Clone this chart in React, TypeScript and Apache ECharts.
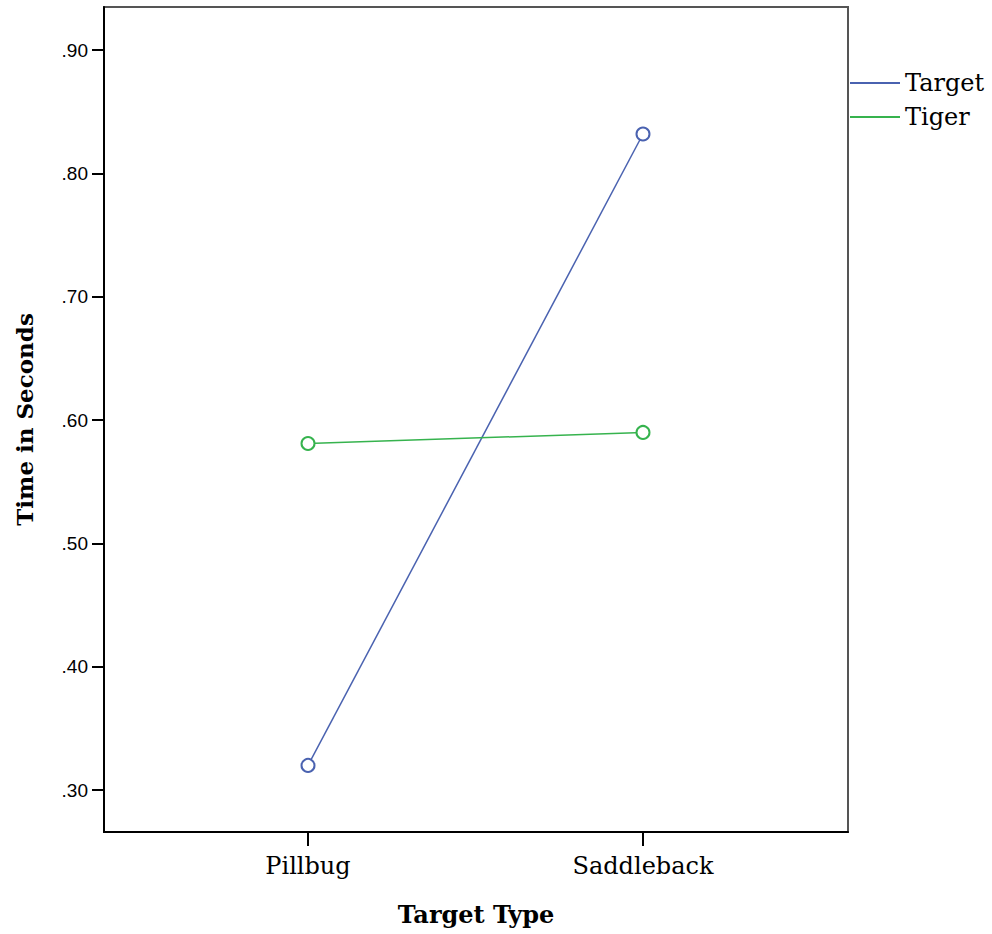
import React, { useEffect, useRef } from "react";
import * as echarts from "echarts";

const categories = ["Pillbug", "Saddleback"];
const seriesNames = ["Target", "Tiger"];
const targetValues = [0.32, 0.832];
const tigerValues = [0.581, 0.59];
const yTicks = [0.3, 0.4, 0.5, 0.6, 0.7, 0.8, 0.9];
const seriesColors = ["#4a62b0", "#36b34e"];

export default function App() {
  const ref = useRef<HTMLDivElement>(null);
  useEffect(() => {
    if (!ref.current) return;
    const chart = echarts.init(ref.current, undefined, { renderer: "svg" });
    const serif = "DejaVu Serif";
    const mk = (vals: number[]) => vals.map((v, i) => [i, v]);
    chart.setOption({
      animation: false,
      backgroundColor: "#ffffff",
      grid: {
        left: 104,
        top: 7,
        width: 744,
        height: 825,
        show: true,
        borderColor: "#555555",
        borderWidth: 2,
        backgroundColor: "transparent",
      },
      legend: {
        orient: "vertical",
        left: 850,
        top: 66,
        padding: 0,
        itemWidth: 50,
        itemHeight: 2,
        itemGap: 0,
        icon: "rect",
        data: seriesNames,
        textStyle: { fontFamily: serif, fontSize: 24, color: "#000", lineHeight: 34, padding: [0, 0, 0, 0] },
      },
      xAxis: {
        type: "value",
        min: -0.609,
        max: 1.612,
        splitLine: { show: false },
        axisLine: { show: true, onZero: false, lineStyle: { color: "#000", width: 2 } },
        axisTick: { show: true, length: 14, lineStyle: { color: "#000", width: 2 }, customValues: [0, 1] },
        axisLabel: {
          customValues: [0, 1],
          formatter: (v: number) => categories[Math.round(v)] ?? "",
          fontFamily: serif,
          fontSize: 24,
          color: "#000",
          margin: 22,
        },
        name: "Target Type",
        nameLocation: "middle",
        nameGap: 70,
        nameTextStyle: { fontFamily: serif, fontSize: 24, fontWeight: "bold", color: "#000" },
      },
      yAxis: {
        type: "value",
        min: 0.266,
        max: 0.935,
        splitLine: { show: false },
        axisLine: { show: true, onZero: false, lineStyle: { color: "#000", width: 2 } },
        axisTick: { show: true, length: 12, lineStyle: { color: "#000", width: 2 }, customValues: yTicks },
        axisLabel: {
          customValues: yTicks,
          formatter: (v: number) => v.toFixed(2).replace(/^0/, ""),
          fontFamily: "Liberation Sans",
          fontSize: 19,
          color: "#000",
          margin: 16,
        },
        name: "Time in Seconds",
        nameLocation: "middle",
        nameGap: 68,
        nameTextStyle: { fontFamily: serif, fontSize: 23, fontWeight: "bold", color: "#000" },
      },
      series: [
        {
          name: seriesNames[0],
          type: "line",
          data: mk(targetValues),
          color: seriesColors[0],
          lineStyle: { width: 1.5, color: seriesColors[0] },
          symbol: "emptyCircle",
          symbolSize: 13,
          itemStyle: { color: seriesColors[0], borderWidth: 1.5 },
        },
        {
          name: seriesNames[1],
          type: "line",
          data: mk(tigerValues),
          color: seriesColors[1],
          lineStyle: { width: 1.5, color: seriesColors[1] },
          symbol: "emptyCircle",
          symbolSize: 13,
          itemStyle: { color: seriesColors[1], borderWidth: 1.5 },
        },
      ],
    });
    return () => chart.dispose();
  }, []);
  return (
    <div
      ref={ref}
      style={{ position: "absolute", left: 0, top: 0, width: 992, height: 934, background: "#fff" }}
    />
  );
}
